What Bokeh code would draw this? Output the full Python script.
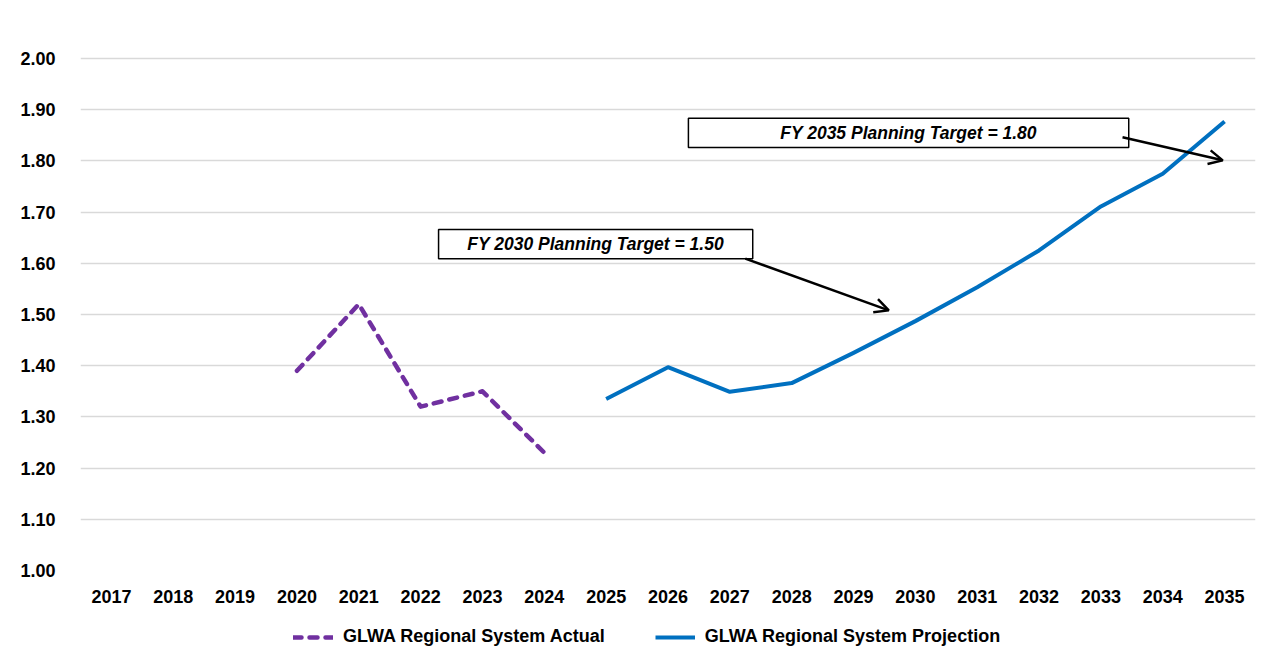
from bokeh.plotting import figure
from bokeh.layouts import column
from bokeh.models import (FixedTicker, Range1d, Legend, LegendItem, Label,
                          BoxAnnotation, Arrow, OpenHead)
from bokeh.embed import file_html
from bokeh.resources import INLINE

# ---- data ----
years = list(range(2017, 2036))
actual_years = [2020, 2021, 2022, 2023, 2024]
actual_values = [1.39, 1.52, 1.32, 1.35, 1.23]
proj_years = [2025, 2026, 2027, 2028, 2029, 2030, 2031, 2032, 2033, 2034, 2035]
proj_values = [1.335, 1.397, 1.349, 1.366, 1.425, 1.487, 1.553, 1.625, 1.711, 1.775, 1.877]
y_ticks = [1.0, 1.1, 1.2, 1.3, 1.4, 1.5, 1.6, 1.7, 1.8, 1.9, 2.0]
series_names = ["GLWA Regional System Actual", "GLWA Regional System Projection"]
note_2030 = "FY 2030 Planning Target = 1.50"
note_2035 = "FY 2035 Planning Target = 1.80"

FONT = "Liberation Sans"
PURPLE = "#7030A0"
BLUE = "#0070C0"
GRID = "#D9D9D9"

p = figure(width=1262, height=620, output_backend="svg", toolbar_location=None,
           x_range=Range1d(2016.5, 2035.5), y_range=Range1d(1.0, 2.078),
           min_border_left=80, min_border_right=7, min_border_top=18,
           min_border_bottom=50)
p.outline_line_color = None
p.background_fill_color = "white"
p.border_fill_color = "white"

# axes
p.xaxis.ticker = FixedTicker(ticks=years)
p.xaxis.major_label_overrides = {y: str(y) for y in years}
p.yaxis.ticker = FixedTicker(ticks=y_ticks)
p.yaxis.major_label_overrides = {t: f"{t:.2f}" for t in y_ticks}
for ax in (p.xaxis[0], p.yaxis[0]):
    ax.axis_line_color = None
    ax.major_tick_line_color = None
    ax.minor_tick_line_color = None
    ax.major_tick_out = 0
    ax.major_tick_in = 0
    ax.major_label_text_font = FONT
    ax.major_label_text_font_style = "bold"
    ax.major_label_text_font_size = "18px"
    ax.major_label_text_color = "black"
p.xaxis.major_label_standoff = 19
p.yaxis.major_label_standoff = 25

p.xgrid.grid_line_color = None
p.ygrid.ticker = FixedTicker(ticks=y_ticks)
p.ygrid.grid_line_color = GRID
p.ygrid.grid_line_width = 1.5

# lines
line1 = dict(line_color=PURPLE, line_width=4.5, line_dash="8 8",
             line_cap="round", line_join="round")
line2 = dict(line_color=BLUE, line_width=4, line_join="round")
p.line(actual_years, actual_values, **line1)
p.line(proj_years, proj_values, **line2)

# annotations
def note(left, right, bottom, top, text):
    p.add_layout(BoxAnnotation(left=left, right=right, bottom=bottom, top=top,
                               fill_color="white", fill_alpha=1,
                               line_color="black", line_alpha=1, line_width=1.5))
    p.add_layout(Label(x=(left + right) / 2, y=(bottom + top) / 2, text=text,
                       text_font=FONT, text_font_style="bold italic",
                       text_font_size="17.5px", text_align="center",
                       text_baseline="middle", text_color="black", level="overlay"))

note(2022.29, 2027.37, 1.609, 1.666, note_2030)
p.add_layout(Arrow(x_start=2027.25, y_start=1.609, x_end=2029.57, y_end=1.508,
                   line_width=2.5, line_color="black", level="overlay",
                   end=OpenHead(size=14, line_width=2.5, line_color="black")))
note(2026.33, 2033.45, 1.826, 1.883, note_2035)
p.add_layout(Arrow(x_start=2033.35, y_start=1.846, x_end=2034.97, y_end=1.801,
                   line_width=2.5, line_color="black", level="overlay",
                   end=OpenHead(size=14, line_width=2.5, line_color="black")))

# legend strip below the chart (keys drawn off-range; only their legend glyphs show)
q = figure(width=1262, height=42, output_backend="svg", toolbar_location=None,
           x_range=Range1d(0, 1), y_range=Range1d(0, 1),
           min_border=0, min_border_left=0, min_border_right=0,
           min_border_top=0, min_border_bottom=0)
q.axis.visible = False
q.grid.visible = False
q.outline_line_color = None
k1 = q.line([-2, -1], [-2, -2], **line1)
k2 = q.line([-2, -1], [-2, -2], **line2)
legend = Legend(items=[LegendItem(label=series_names[0], renderers=[k1]),
                       LegendItem(label=series_names[1], renderers=[k2])],
                orientation="horizontal", location=(213, 15),
                label_text_font=FONT, label_text_font_style="bold",
                label_text_font_size="18px", label_text_color="black",
                glyph_width=40, label_standoff=10, spacing=50,
                border_line_color=None, background_fill_alpha=0,
                margin=0, padding=6)
q.add_layout(legend, "center")

layout = column(p, q, spacing=0)
open("out.html", "w").write(file_html(layout, INLINE))
